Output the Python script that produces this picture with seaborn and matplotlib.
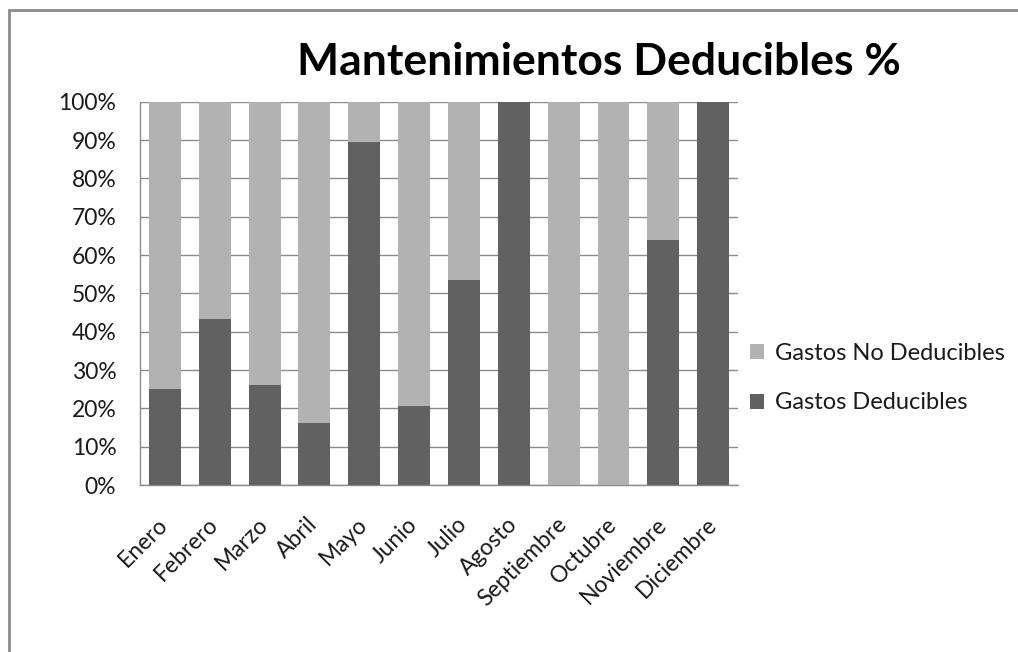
import numpy as np
import pandas as pd
import matplotlib.pyplot as plt
import seaborn as sns
from matplotlib.lines import Line2D
from matplotlib.patches import Patch
from matplotlib.ticker import FuncFormatter

meses = ["Enero", "Febrero", "Marzo", "Abril", "Mayo", "Junio", "Julio",
         "Agosto", "Septiembre", "Octubre", "Noviembre", "Diciembre"]
deducibles = [25.0, 43.2, 26.1, 16.1, 89.4, 20.7, 53.5, 100.0, 0.0, 0.0, 63.9, 100.0]
no_deducibles = [75.0, 56.8, 73.9, 83.9, 10.6, 79.3, 46.5, 0.0, 100.0, 100.0, 36.1, 0.0]

color_ded = "#616161"
color_no = "#b2b2b2"
grid_col = "#8a8a8a"

sns.set_theme(style="white")
plt.rcParams['font.family'] = ['Lato', 'DejaVu Sans']

df = pd.DataFrame({"mes": meses, "ded": deducibles, "no": no_deducibles})
df["total"] = df["ded"] + df["no"]

fig = plt.figure(figsize=(10.18, 6.52), dpi=100)
ax = fig.add_axes([0.1375, 0.2561, 0.5875, 0.5879])

# barras apiladas: primero el total (gris claro), luego la parte deducible encima
sns.barplot(data=df, x="mes", y="total", color=color_no, width=0.64,
            saturation=1, linewidth=0, ax=ax, zorder=3)
sns.barplot(data=df, x="mes", y="ded", color=color_ded, width=0.64,
            saturation=1, linewidth=0, ax=ax, zorder=3)

ax.set_ylim(0, 100)
ax.set_xlim(-0.5, 11.5)
ax.set_yticks(np.arange(0, 101, 10))
ax.yaxis.set_major_formatter(FuncFormatter(lambda v, p: f"{v:.0f}%"))
ax.grid(axis='y', color=grid_col, linewidth=1, zorder=0)
ax.set_axisbelow(True)
ax.set_xlabel("")
ax.set_ylabel("")

for s in ["top", "right"]:
    ax.spines[s].set_visible(False)
for s in ["left", "bottom"]:
    ax.spines[s].set_color(grid_col)
    ax.spines[s].set_linewidth(1)

ax.tick_params(axis='y', length=0, pad=17, labelsize=16.5, labelcolor="#1a1a1a")
ax.tick_params(axis='x', length=0, pad=26, labelsize=16.5, labelcolor="#1a1a1a")
for lbl in ax.get_xticklabels():
    lbl.set_rotation(45)
    lbl.set_ha('right')
    lbl.set_va('center')
    lbl.set_rotation_mode('anchor')

fig.text(0.588, 0.905, "Mantenimientos Deducibles %", ha='center', va='center',
         fontsize=32, fontweight='bold', color='black')

handles = [Patch(facecolor=color_no, edgecolor='none', label="Gastos No Deducibles"),
           Patch(facecolor=color_ded, edgecolor='none', label="Gastos Deducibles")]
fig.legend(handles=handles, loc='center left', bbox_to_anchor=(0.716, 0.42),
           frameon=False, fontsize=17, handlelength=0.6, handleheight=0.6,
           handletextpad=0.45, labelspacing=1.2, labelcolor="#1a1a1a")

# borde del área del gráfico (solo se ven arriba e izquierda)
fig.add_artist(Line2D([9 / 1018, 1.0], [1 - 10 / 652, 1 - 10 / 652],
                      transform=fig.transFigure, color="#8a8a8a", linewidth=2))
fig.add_artist(Line2D([9 / 1018, 9 / 1018], [0.0, 1 - 10 / 652],
                      transform=fig.transFigure, color="#8a8a8a", linewidth=2))

fig.savefig("out.png", dpi=100)
